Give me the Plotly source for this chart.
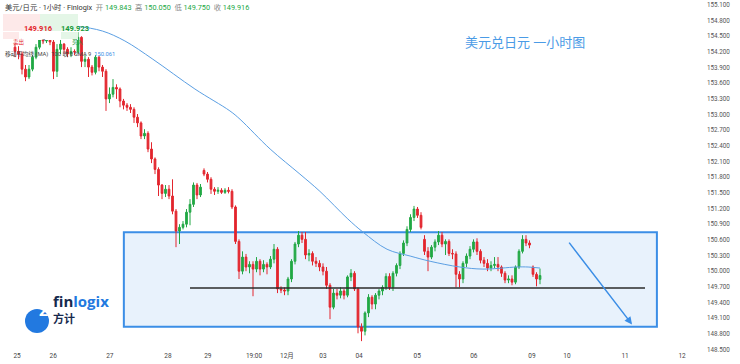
import plotly.graph_objects as go

# ---------------- data (USD/JPY hourly) ----------------
open_ = [154.29, 154.21, 154.16, 153.87, 153.72, 153.87, 154.10, 154.29, 154.44, 154.41,
         154.44, 154.39, 153.83, 154.25, 154.35, 154.25, 154.16, 154.21, 154.20, 154.48,
         154.02, 154.06, 153.91, 153.81, 154.10, 153.91, 153.83, 153.30, 153.39, 153.52,
         153.49, 153.26, 153.18, 153.14, 153.10, 152.95, 152.84, 152.59, 152.64, 152.34,
         152.15, 151.95, 151.65, 151.49, 151.57, 151.44, 151.15, 150.77, 150.84, 150.90,
         151.13, 151.28, 151.65, 151.46, 151.93, 151.86, 151.76, 151.57, 151.53, 151.55,
         151.51, 151.55, 151.53, 151.23, 150.57, 150.00, 150.27, 150.08, 150.13, 150.04,
         150.19, 150.04, 150.13, 150.08, 150.23, 150.42, 149.66, 149.64, 149.62, 149.85,
         150.19, 150.52, 150.69, 150.61, 150.31, 150.34, 150.19, 150.15, 150.08, 150.00,
         149.73, 149.31, 149.58, 149.54, 149.62, 149.54, 149.89, 149.96, 149.66, 148.93,
         148.85, 149.20, 149.50, 149.37, 149.54, 149.62, 149.69, 149.90, 149.69, 149.96,
         150.11, 150.34, 150.54, 150.80, 151.03, 151.19, 151.07, 150.61, 150.38, 150.27,
         150.46, 150.56, 150.69, 150.52, 150.57, 150.34, 150.33, 149.94, 149.85, 150.15,
         150.29, 150.42, 150.56, 150.38, 150.21, 150.15, 150.06, 150.11, 150.13, 150.08,
         149.96, 149.83, 149.85, 149.79, 150.08, 150.38, 150.61, 150.54, 150.08, 149.94,
         149.843]
high = [154.35, 154.31, 154.21, 153.95, 153.95, 154.14, 154.35, 154.50, 154.48, 154.50,
        154.48, 154.44, 154.35, 154.44, 154.37, 154.29, 154.29, 154.25, 154.58, 154.50,
        154.14, 154.10, 153.95, 154.14, 154.12, 153.95, 153.87, 153.52, 153.68, 153.58,
        153.52, 153.30, 153.22, 153.20, 153.14, 153.01, 152.87, 152.72, 152.68, 152.47,
        152.18, 151.99, 151.67, 151.65, 151.65, 151.76, 151.19, 150.90, 150.96, 151.19,
        151.38, 151.70, 151.69, 151.67, 151.97, 151.90, 151.80, 151.61, 151.61, 151.59,
        151.59, 151.61, 151.57, 151.26, 150.61, 150.38, 150.33, 150.19, 150.19, 150.27,
        150.23, 150.21, 150.17, 150.29, 150.52, 150.46, 149.71, 149.69, 149.89, 150.23,
        150.56, 150.77, 150.75, 150.75, 150.42, 150.38, 150.27, 150.21, 150.15, 150.08,
        149.77, 149.66, 149.66, 149.69, 149.66, 149.92, 150.04, 150.00, 149.69, 149.00,
        149.23, 149.56, 149.54, 149.58, 149.66, 149.73, 149.96, 149.96, 150.00, 150.15,
        150.38, 150.59, 150.86, 151.09, 151.25, 151.23, 151.13, 150.69, 150.46, 150.50,
        150.61, 150.77, 150.75, 150.61, 150.61, 150.42, 150.38, 150.00, 150.19, 150.34,
        150.48, 150.61, 150.63, 150.42, 150.27, 150.23, 150.19, 150.27, 150.27, 150.11,
        150.00, 149.92, 149.92, 150.11, 150.42, 150.69, 150.69, 150.59, 150.11, 149.98,
        150.050]
low = [154.10, 154.06, 153.77, 153.64, 153.68, 153.83, 154.06, 154.25, 154.35, 154.37,
       154.33, 153.68, 153.72, 154.16, 154.16, 154.10, 154.10, 154.14, 154.16, 153.91,
       153.91, 153.72, 153.75, 153.77, 153.83, 153.72, 153.07, 153.22, 153.33, 153.30,
       153.14, 153.10, 153.07, 153.03, 152.84, 152.76, 152.53, 152.53, 152.28, 152.07,
       151.86, 151.44, 151.38, 151.42, 151.38, 151.09, 150.46, 150.52, 150.80, 150.84,
       150.88, 151.23, 151.38, 151.42, 151.82, 151.70, 151.48, 151.46, 151.48, 151.48,
       151.48, 151.49, 151.19, 150.52, 149.85, 149.94, 150.00, 149.96, 149.52, 149.98,
       149.92, 149.98, 149.94, 150.04, 150.15, 149.58, 149.58, 149.54, 149.54, 149.79,
       150.13, 150.46, 150.54, 150.23, 150.19, 150.11, 150.08, 150.00, 149.92, 149.66,
       149.08, 149.27, 149.46, 149.48, 149.46, 149.50, 149.81, 149.62, 148.81, 148.66,
       148.77, 149.12, 149.27, 149.27, 149.46, 149.54, 149.64, 149.64, 149.62, 149.90,
       150.04, 150.29, 150.48, 150.75, 150.96, 151.02, 150.80, 150.31, 150.00, 150.23,
       150.38, 150.50, 150.46, 150.31, 150.29, 150.23, 149.69, 149.69, 149.77, 150.08,
       150.23, 150.36, 150.31, 150.15, 150.08, 150.00, 150.00, 150.06, 150.00, 149.89,
       149.77, 149.77, 149.73, 149.75, 150.04, 150.34, 150.48, 150.44, 149.89, 149.71,
       149.750]
close = [154.21, 154.16, 153.87, 153.72, 153.87, 154.10, 154.29, 154.44, 154.41, 154.44,
         154.39, 153.83, 154.25, 154.35, 154.25, 154.16, 154.21, 154.20, 154.48, 154.02,
         154.06, 153.91, 153.81, 154.10, 153.91, 153.83, 153.30, 153.39, 153.52, 153.49,
         153.26, 153.18, 153.14, 153.10, 152.95, 152.84, 152.59, 152.64, 152.34, 152.15,
         151.95, 151.65, 151.49, 151.57, 151.44, 151.15, 150.77, 150.84, 150.90, 151.13,
         151.28, 151.65, 151.46, 151.61, 151.86, 151.76, 151.57, 151.53, 151.55, 151.51,
         151.55, 151.53, 151.23, 150.57, 150.00, 150.27, 150.08, 150.13, 150.04, 150.19,
         150.04, 150.13, 150.08, 150.23, 150.42, 149.66, 149.64, 149.62, 149.85, 150.19,
         150.52, 150.69, 150.61, 150.31, 150.34, 150.19, 150.15, 150.08, 150.00, 149.73,
         149.31, 149.58, 149.54, 149.62, 149.54, 149.89, 149.96, 149.66, 148.93, 148.85,
         149.20, 149.50, 149.37, 149.54, 149.62, 149.69, 149.90, 149.69, 149.96, 150.11,
         150.34, 150.54, 150.80, 151.03, 151.19, 151.07, 150.84, 150.38, 150.27, 150.46,
         150.56, 150.69, 150.52, 150.57, 150.34, 150.33, 149.94, 149.85, 150.15, 150.29,
         150.42, 150.56, 150.38, 150.21, 150.15, 150.06, 150.11, 150.13, 150.08, 149.96,
         149.83, 149.85, 149.79, 150.08, 150.38, 150.61, 150.54, 150.50, 149.94, 149.85,
         149.916]
bars = list(range(len(close)))

# MA(100) at a few bars
ma_bar = [0, 10, 18, 25, 31.4, 39.4, 51.4, 61.4, 64.3, 72.9, 81.4, 87.1, 95.1, 99.4,
          106.3, 112.9, 118.6, 127.1, 133.7, 143.4, 146.6, 150]
ma_val = [154.76, 154.74, 154.69, 154.60, 154.41, 154.06, 153.49, 153.07, 152.91, 152.34,
          151.86, 151.53, 151.00, 150.75, 150.42, 150.29, 150.19, 150.08, 150.04, 150.08,
          150.08, 150.06]

x_tick_pos = [0.6, 10.9, 27.1, 43.7, 55.1, 68.3, 77.7, 88.0, 98.3, 114.9, 131.1, 147.7,
              157.7, 174.3, 190.6]
x_tick_text = ["25", "26", "27", "28", "29", "19:00", "12月", "03", "04", "05", "06",
               "09", "10", "11", "12"]
y_tick_vals = [round(148.5 + 0.3 * k, 1) for k in range(23)]

# analysis drawings (price levels)
range_top, range_bottom = 150.745, 148.935
support_level = 149.68

GREEN = "#22a845"
RED = "#e3262e"
BLUE = "#3b8ee6"

W_PLOT, H_PLOT = 700, 350
def px(x):
    return x / W_PLOT
def py(y):
    return 1 - y / H_PLOT

fig = go.Figure()
fig.add_trace(go.Candlestick(
    x=bars, open=open_, high=high, low=low, close=close,
    increasing=dict(line=dict(color=GREEN, width=1), fillcolor=GREEN),
    decreasing=dict(line=dict(color=RED, width=1), fillcolor=RED),
    whiskerwidth=0, showlegend=False, hoverinfo="skip"))
fig.add_trace(go.Scatter(x=ma_bar, y=ma_val, mode="lines",
                         line=dict(color="#5b9fe3", width=1, shape="spline"),
                         showlegend=False, hoverinfo="skip"))

shapes = [
    dict(type="rect", xref="x", yref="y", x0=31.1, x1=183.4, y0=range_bottom, y1=range_top,
         line=dict(color=BLUE, width=2), fillcolor="rgba(214,232,250,0.55)", layer="below"),
    dict(type="line", xref="x", yref="y", x0=50, x1=180, y0=support_level, y1=support_level,
         line=dict(color="#2b2b2b", width=1.5)),
    # header quote boxes
    dict(type="rect", xref="paper", yref="paper", x0=px(3), x1=px(40), y0=py(31), y1=py(14),
         fillcolor="#fde9e9", line=dict(width=0), layer="above"),
    dict(type="rect", xref="paper", yref="paper", x0=px(40), x1=px(78), y0=py(31), y1=py(14),
         fillcolor="#e4f6e7", line=dict(width=0), layer="above"),
    dict(type="rect", xref="paper", yref="paper", x0=px(3), x1=px(78), y0=py(40), y1=py(31),
         fillcolor="white", line=dict(width=0), layer="above"),
    dict(type="rect", xref="paper", yref="paper", x0=px(3), x1=px(19), y0=py(39), y1=py(32),
         fillcolor="#fde9e9", line=dict(width=0), layer="above"),
    dict(type="rect", xref="paper", yref="paper", x0=px(61), x1=px(78), y0=py(39), y1=py(32),
         fillcolor="#e4f6e7", line=dict(width=0), layer="above"),
    # logo circle
    dict(type="circle", xref="paper", yref="paper", x0=px(25), x1=px(49), y0=py(333), y1=py(309),
         fillcolor="#2279e0", line=dict(width=0), layer="above"),
]

F = "Roboto, 'Noto Sans CJK SC', sans-serif"
ann = [
    dict(xref="paper", yref="paper", x=px(3), y=py(7), xanchor="left", yanchor="middle",
         showarrow=False, font=dict(size=7.3, color="#333", family=F),
         text="美元/日元 · 1小时 · Finlogix &nbsp;<span style='color:#888'>开</span> "
              "<span style='color:#22a845'>149.843</span> &nbsp;<span style='color:#888'>高</span> "
              "<span style='color:#22a845'>150.050</span> &nbsp;<span style='color:#888'>低</span> "
              "<span style='color:#22a845'>149.750</span> &nbsp;<span style='color:#888'>收</span> "
              "<span style='color:#22a845'>149.916</span>"),
    dict(xref="paper", yref="paper", x=px(21.5), y=py(22.5), showarrow=False,
         font=dict(size=7.5, color=RED, family=F), text="<b>149.916</b>"),
    dict(xref="paper", yref="paper", x=px(59), y=py(22.5), showarrow=False,
         font=dict(size=7.5, color="#1a9a3c", family=F), text="<b>149.923</b>"),
    dict(xref="paper", yref="paper", x=px(11), y=py(35.5), showarrow=False,
         font=dict(size=5.5, color=RED, family=F), text="卖出"),
    dict(xref="paper", yref="paper", x=px(40), y=py(35.5), showarrow=False,
         font=dict(size=5.5, color="#555", family=F), text="7"),
    dict(xref="paper", yref="paper", x=px(69.5), y=py(35.5), showarrow=False,
         font=dict(size=5.5, color="#1a9a3c", family=F), text="买入"),
    dict(xref="paper", yref="paper", x=px(3), y=py(48), xanchor="left", showarrow=False,
         font=dict(size=5.8, color="#444", family=F),
         text="移动平均线 (MA) &nbsp;100 收 0 SMA 9 &nbsp;<span style='color:#3b8ee6'>150.061</span>"),
    dict(xref="paper", yref="paper", x=px(587), y=py(33), showarrow=False,
         font=dict(size=13, color="#4a9be6", family=F), text="美元兑日元 一小时图"),
    # logo text
    dict(xref="paper", yref="paper", x=px(37), y=py(321), showarrow=False,
         font=dict(size=13, color="white", family="'DejaVu Sans', sans-serif"), text="<b>Z</b>"),
    dict(xref="paper", yref="paper", x=px(51), y=py(313), xanchor="left", showarrow=False,
         font=dict(size=15, color="#17294d", family="'Open Sans', sans-serif"),
         text="<b>fin<span style='color:#2279e0'>logix</span></b>"),
    dict(xref="paper", yref="paper", x=px(51), y=py(328), xanchor="left", showarrow=False,
         font=dict(size=11, color="#17294d", family="'Noto Sans CJK SC', sans-serif"),
         text="<b>方计</b>"),
    # forecast arrow
    dict(xref="x", yref="y", axref="x", ayref="y", x=176.3, y=148.98, ax=158.0, ay=150.575,
         showarrow=True, arrowhead=2, arrowsize=1, arrowwidth=1.5, arrowcolor=BLUE, text=""),
]

fig.update_layout(
    width=740, height=364, margin=dict(l=0, r=40, t=0, b=14),
    paper_bgcolor="white", plot_bgcolor="white",
    shapes=shapes, annotations=ann,
    xaxis=dict(range=[-4.286, 195.714], showgrid=False, zeroline=False, showline=False,
               tickmode="array", tickvals=x_tick_pos, ticktext=x_tick_text, ticks="",
               tickfont=dict(size=6.5, color="#444", family=F), rangeslider=dict(visible=False),
               fixedrange=True),
    yaxis=dict(range=[148.49, 155.195], side="right", showgrid=False, zeroline=False,
               showline=False, tickmode="array", tickvals=y_tick_vals, tickformat=".3f",
               ticks="", ticklabelstandoff=6, tickfont=dict(size=6.3, color="#555", family=F),
               fixedrange=True),
    font=dict(family=F),
)

fig.write_html("out.html", config={"displayModeBar": False},
               post_script="document.body.style.margin='0';")
